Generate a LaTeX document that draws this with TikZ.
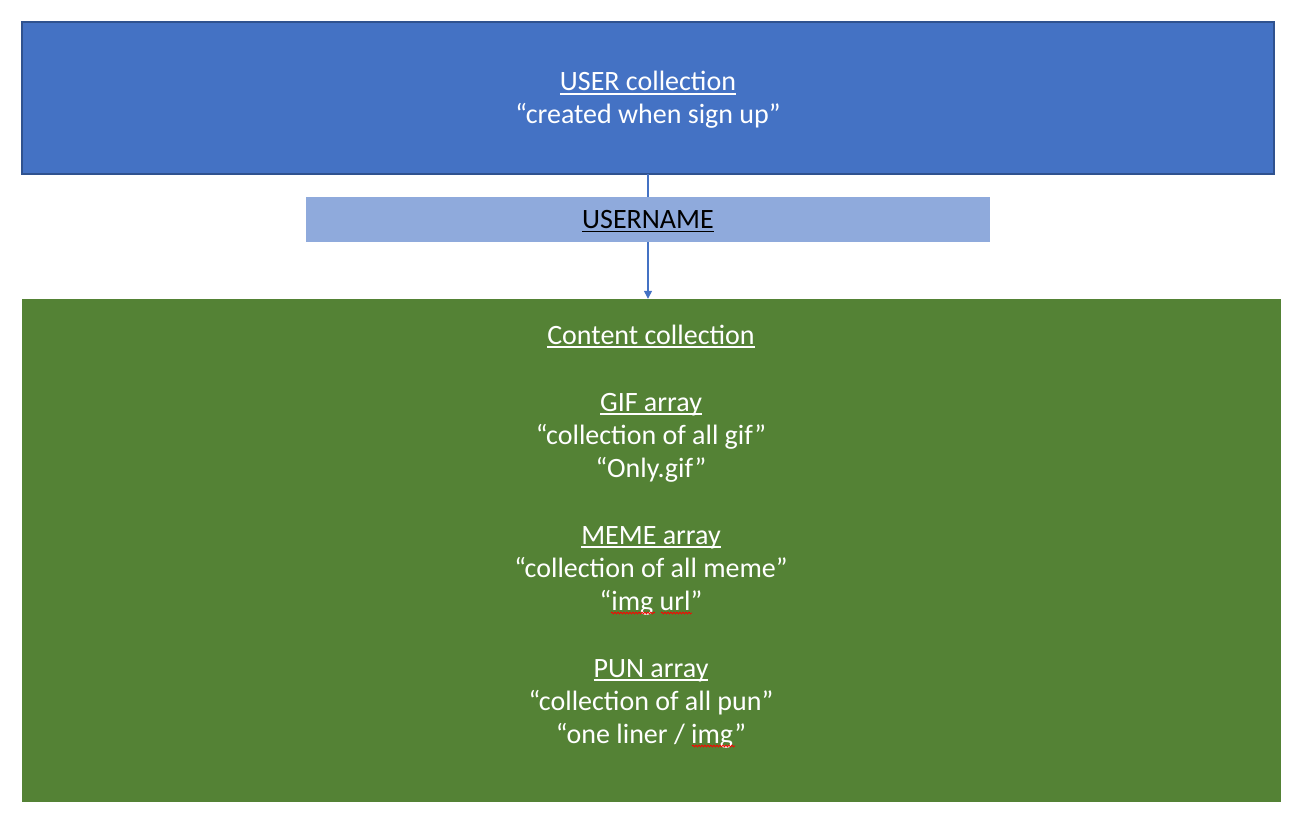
\documentclass[tikz,border=0pt]{standalone}
\usepackage{fontspec}
\setmainfont{Carlito}
\usetikzlibrary{arrows.meta,decorations.pathmorphing}
\definecolor{userblue}{HTML}{4472C4}
\definecolor{userborder}{HTML}{2F528F}
\definecolor{namebg}{HTML}{8FAADC}
\definecolor{contentgreen}{HTML}{548235}
\newcommand{\uln}[1]{\setbox0\hbox{#1}\rlap{\rule[-3.6pt]{\wd0}{1.5pt}}\box0}
\tikzset{
  boxshape/.style={rectangle, inner sep=0pt, minimum width=#1},
  txt/.style={anchor=base, inner sep=0pt, font=\fontsize{28}{33}\selectfont},
  wtxt/.style={txt, text=white},
  squig/.style={draw=red, line width=0.8pt, decorate, decoration={snake, amplitude=0.9pt, segment length=3pt}},
  conn/.style={draw=userblue, line width=1.3pt, -{Triangle[width=8pt,length=8pt]}}
}
\begin{document}
\begin{tikzpicture}[x=1pt,y=-1pt]
\useasboundingbox (0,0) rectangle (1306,821);
% boxes
\path[fill=userblue, draw=userborder, line width=2pt] (22,22) rectangle (1274,174);
\node[boxshape=1252pt, minimum height=152pt] (userbox) at (648,98) {};
\path[fill=contentgreen] (22,299) rectangle (1281,802);
\node[boxshape=1259pt, minimum height=503pt] (content) at (651.5,550.5) {};
% connector
\path[conn] (userbox.south) -- (userbox.south |- content.north);
% username box
\node[boxshape=684pt, minimum height=45pt, fill=namebg] (uname) at (648,219.5) {};
% texts
\node[wtxt] (t1) at (648,91) {\uln{USER collection}};
\node[wtxt] (t2) at (648,124) {“created when sign up”};
\node[txt] (t3) at (648,228.5) {\uln{USERNAME}};
\node[wtxt] (c1) at (651,344) {\uln{Content collection}};
\node[wtxt] (c2) at (651,411) {\uln{GIF array}};
\node[wtxt] (c3) at (651,444) {“collection of all gif”};
\node[wtxt] (c4) at (651,477) {“Only.gif”};
\node[wtxt] (c5) at (651,544) {\uln{MEME array}};
\node[wtxt] (c6) at (651,577) {“collection of all meme”};
\node[wtxt] (c7) at (651,610) {“img url”};
\node[wtxt] (c8) at (651,677) {\uln{PUN array}};
\node[wtxt] (c9) at (651,710) {“collection of all pun”};
\node[wtxt] (c10) at (651,743) {“one liner / img”};
% spell-check squiggles
\path[squig] (611,613) -- (655,613);
\path[squig] (661,613) -- (692,613);
\path[squig] (692,746) -- (735,746);
\end{tikzpicture}
\end{document}
